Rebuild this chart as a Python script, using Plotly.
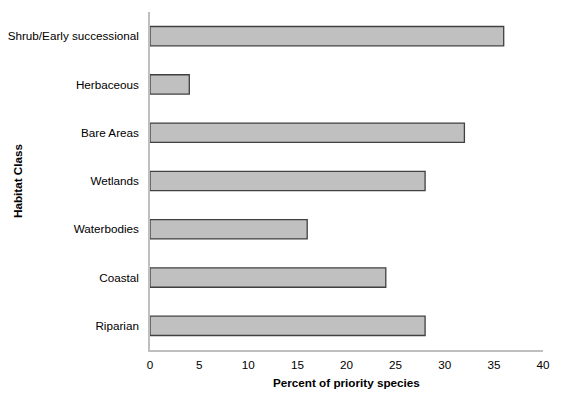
import plotly.graph_objects as go

categories = ["Riparian", "Coastal", "Waterbodies", "Wetlands", "Bare Areas",
              "Herbaceous", "Shrub/Early successional"]
values = [28, 24, 16, 28, 32, 4, 36]
x_ticks = [0, 5, 10, 15, 20, 25, 30, 35, 40]

fig = go.Figure(go.Bar(
    x=values, y=categories, orientation="h",
    marker=dict(color="#C0C0C0", line=dict(color="#404040", width=1.3)),
    width=0.4,
))

font = dict(family="Liberation Sans, Arial, sans-serif", size=11.7, color="#000000")
fig.update_layout(
    width=557, height=389,
    margin=dict(l=142, r=22, t=4, b=47, autoexpand=False),
    paper_bgcolor="white", plot_bgcolor="white",
    font=font,
    showlegend=False,
    bargap=0.6,
    xaxis=dict(range=[0, 40], tickvals=x_ticks, showgrid=False, zeroline=False,
               showline=True, linecolor="#BFBFBF", linewidth=1.5, automargin=False,
               ticks="", ticklabelstandoff=3, tickfont=font, fixedrange=True),
    yaxis=dict(categoryorder="array", categoryarray=categories,
               showgrid=False, zeroline=False, showline=True, automargin=False,
               linecolor="#BFBFBF", linewidth=1.5,
               ticks="", ticklabelstandoff=7, tickfont=font,
               range=[-0.5, 6.5], fixedrange=True),
    annotations=[
        dict(text="<b>Percent of priority species</b>", xref="paper", yref="paper",
             x=0.5, y=0, yshift=-32, showarrow=False, font=font,
             xanchor="center", yanchor="middle"),
        dict(text="<b>Habitat Class</b>", xref="paper", yref="paper",
             x=0, xshift=-133, y=0.5, textangle=-90, showarrow=False, font=font,
             xanchor="center", yanchor="middle"),
    ],
)

fig.write_html("out.html")
